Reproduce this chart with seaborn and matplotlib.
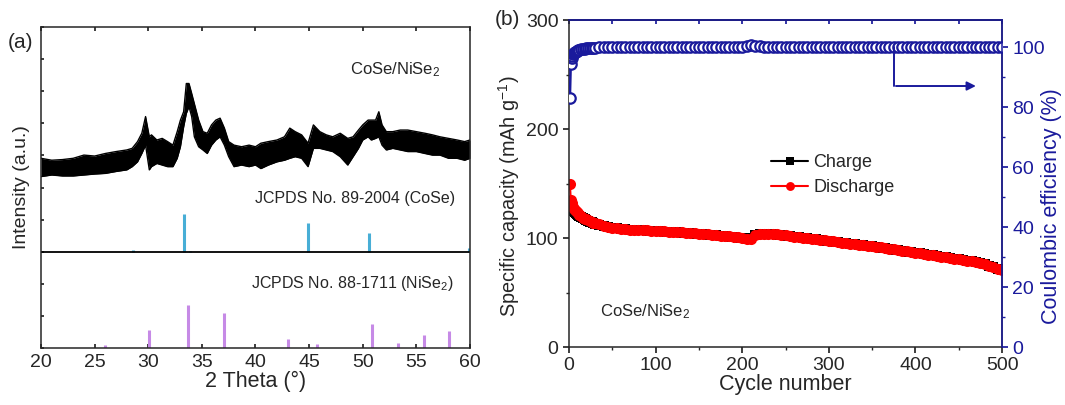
import matplotlib
matplotlib.use("Agg")
import matplotlib.pyplot as plt
from matplotlib.ticker import MultipleLocator, NullFormatter
import seaborn as sns

# ---- (a) XRD pattern (upper / lower edge of the noisy trace)
theta = [20.0, 21.0, 22.0, 23.0, 24.0, 25.0, 26.0, 27.0, 28.0, 28.5, 29.0, 29.4, 29.75, 30.1,
         30.3, 30.8, 31.3, 31.8, 32.3, 32.7, 33.0, 33.3, 33.55, 33.8, 34.05, 34.3, 34.7, 35.1,
         35.5, 35.9, 36.3, 36.7, 37.1, 37.5, 38.0, 38.7, 39.4, 40.0, 40.5, 41.2, 42.0, 42.7,
         43.2, 43.7, 44.3, 44.9, 45.4, 46.0, 46.6, 47.2, 47.9, 48.6, 49.1, 49.6, 50.0, 50.5,
         50.8, 51.2, 51.5, 51.8, 52.2, 52.8, 53.5, 54.2, 55.0, 55.8, 56.5, 57.2, 58.0, 58.8,
         59.5, 60.0]
xrd_upper = [59.1, 58.5, 58.7, 59.1, 60.1, 59.8, 60.6, 61.2, 61.7, 62.2, 64.3, 66.9, 72.1, 65.8,
             66.4, 64.8, 65.3, 64.3, 63.2, 67.4, 71.0, 73.6, 82.4, 82.4, 79.3, 76.1, 71.0, 67.4,
             66.9, 69.5, 71.0, 71.6, 68.5, 64.3, 63.2, 62.7, 63.2, 62.7, 63.8, 64.3, 64.8, 65.8,
             68.5, 67.4, 66.4, 63.8, 69.5, 67.4, 66.4, 65.8, 66.9, 65.3, 65.8, 67.9, 69.5, 71.0,
             71.0, 71.0, 73.6, 69.5, 67.4, 67.4, 67.9, 67.9, 67.4, 66.9, 66.4, 65.8, 65.3, 64.8,
             64.3, 64.8]
xrd_lower = [53.4, 53.9, 53.6, 53.6, 53.9, 54.2, 54.4, 55.0, 55.5, 56.5, 58.0, 60.6, 63.2, 55.5,
             56.5, 57.5, 57.0, 56.5, 56.5, 59.1, 62.7, 68.9, 73.1, 75.2, 72.1, 65.8, 62.7, 61.7,
             60.6, 63.2, 64.8, 65.8, 63.2, 59.6, 56.5, 57.0, 56.5, 57.0, 55.9, 57.0, 58.0, 58.5,
             59.1, 59.6, 59.1, 56.5, 62.2, 62.2, 61.7, 61.2, 59.6, 57.0, 59.6, 62.2, 64.8, 65.8,
             64.8, 65.3, 65.8, 63.2, 61.7, 62.2, 61.7, 61.2, 61.2, 60.6, 60.1, 60.1, 59.1, 59.1,
             58.5, 59.1]

# reference cards (positions in 2 theta, relative intensity)
cose_pos = [28.6, 33.3, 33.9, 44.9, 50.6, 59.95]
cose_int = [0.6, 11.8, 0.3, 8.9, 5.7, 1.2]
nise2_pos = [26.0, 30.1, 33.75, 37.05, 43.0, 45.75, 50.9, 53.3, 55.7, 58.0]
nise2_int = [1.0, 5.5, 13.4, 11.0, 2.9, 1.2, 7.6, 1.6, 4.2, 5.3]

# ---- (b) cycling
cycles = [1, 2, 3, 4, 5, 6, 7, 8, 9, 10, 12, 14, 16, 18, 20, 22, 24, 26, 28, 30,
          35, 40, 45, 50, 55, 60, 65, 70, 75, 80, 85, 90, 95, 100, 105, 110, 115, 120,
          125, 130, 135, 140, 145, 150, 155, 160, 165, 170, 175, 180, 185, 190, 195, 200,
          205, 210, 215, 220, 225, 230, 235, 240, 245, 250, 255, 260, 265, 270, 275, 280,
          285, 290, 295, 300, 305, 310, 315, 320, 325, 330, 335, 340, 345, 350, 355, 360,
          365, 370, 375, 380, 385, 390, 395, 400, 405, 410, 415, 420, 425, 430, 435, 440,
          445, 450, 455, 460, 465, 470, 475, 480, 485, 490, 495, 500]
discharge = [150.0, 135.0, 132.0, 130.0, 128.5, 127.0, 126.0, 125.0, 124.0, 123.0, 121.5, 120.0,
             118.8, 117.8, 117.0, 116.2, 115.5, 114.8, 114.2, 113.6,
             112.4, 111.2, 110.3, 109.6, 109.0, 108.5, 108.1, 107.8, 107.5, 107.3, 107.1, 106.9,
             106.7, 106.5, 106.3, 106.1, 105.9, 105.7, 105.4, 105.1, 104.8, 104.5, 104.2, 103.9,
             103.6, 103.3, 103.0, 102.6, 102.2, 101.8, 101.4, 101.0, 100.5, 100.0,
             99.0, 99.5, 102.5, 103.5, 103.6, 103.6, 103.5, 103.3, 102.8, 102.3, 101.8, 101.3,
             100.8, 100.3, 99.8, 99.3, 98.8, 98.3, 97.8, 97.3, 96.8, 96.3, 95.8, 95.3, 94.8,
             94.4, 94.0, 93.5, 93.0, 92.5, 91.9, 91.3, 90.7, 90.1, 89.5, 88.9, 88.3, 87.7, 87.1,
             86.5, 85.9, 85.3, 84.7, 84.1, 83.5, 82.9, 82.3, 81.7, 81.1, 80.5, 79.9, 79.3, 78.7,
             78.1, 77.5, 76.0, 74.6, 73.3, 72.0, 70.8]
charge = [125.0, 127.5, 127.0, 126.2, 125.4, 124.5, 123.8, 123.1, 122.3, 121.5, 120.3, 119.0,
          118.0, 117.1, 116.4, 115.7, 115.1, 114.4, 113.9, 113.3,
          112.2, 111.0, 110.1, 109.4, 108.8, 108.3, 107.9, 107.6, 107.3, 107.1, 106.9, 106.7,
          106.5, 106.3, 106.1, 105.9, 105.7, 105.5, 105.2, 104.9, 104.6, 104.3, 104.0, 103.7,
          103.4, 103.1, 102.8, 102.4, 102.0, 101.6, 101.2, 100.8, 100.3, 99.8,
          98.8, 99.6, 102.6, 103.4, 103.5, 103.5, 103.4, 103.2, 102.7, 102.2, 101.7, 101.2,
          100.7, 100.2, 99.7, 99.2, 98.7, 98.2, 97.7, 97.2, 96.7, 96.2, 95.7, 95.2, 94.7,
          94.3, 93.9, 93.4, 92.9, 92.4, 91.8, 91.2, 90.6, 90.0, 89.4, 88.8, 88.2, 87.6, 87.0,
          86.4, 85.8, 85.2, 84.6, 84.0, 83.4, 82.8, 82.2, 81.6, 81.0, 80.4, 79.8, 79.2, 78.6,
          78.0, 77.4, 75.9, 74.5, 73.2, 71.9, 70.7]
efficiency = [83.0, 94.5, 96.2, 97.1, 97.6, 98.0, 98.3, 98.5, 98.7, 98.9, 99.1, 99.3,
              99.4, 99.5, 99.6, 99.7, 99.7, 99.8, 99.8, 99.8,
              99.9, 99.9, 99.9, 100.0, 100.0, 100.0, 100.0, 100.0, 99.9, 100.0, 100.0, 100.0,
              100.0, 100.0, 99.9, 100.0, 100.0, 100.0, 99.9, 100.0, 100.0, 100.0, 99.9, 100.0,
              100.0, 100.0, 100.0, 99.9, 100.0, 100.0, 100.0, 100.0, 99.9, 100.0,
              100.3, 100.6, 100.5, 100.2, 100.0, 100.0, 100.0, 99.9, 100.0, 100.0, 100.0, 99.9,
              100.0, 100.0, 100.0, 100.0, 99.9, 100.0, 100.0, 100.0, 100.0, 99.9, 100.0, 100.0,
              100.0, 100.0, 99.9, 100.0, 100.0, 100.0, 100.0, 99.9, 100.0, 100.0, 100.0, 100.0,
              99.9, 100.0, 100.0, 100.0, 100.0, 99.9, 100.0, 100.0, 100.0, 100.0, 99.9, 100.0,
              100.0, 100.0, 100.0, 99.9, 100.0, 100.0, 100.0, 100.0, 99.9, 100.0, 100.0, 100.0]

NAVY = "#1a1a9c"
CYAN = "#48aed6"
VIOLET = "#c68ae6"

sns.set_theme(style="ticks")
plt.rcParams["font.family"] = ["Liberation Sans", "DejaVu Sans"]
plt.rcParams["mathtext.fontset"] = "custom"
plt.rcParams["mathtext.rm"] = "Liberation Sans"
plt.rcParams["mathtext.it"] = "Liberation Sans:italic"
plt.rcParams["mathtext.bf"] = "Liberation Sans:bold"
plt.rcParams["axes.linewidth"] = 1.1

fig = plt.figure(figsize=(10.65, 4.05), dpi=100)
ax_a = fig.add_axes([0.0385, 0.1407, 0.4028, 0.7926])
ax_b = fig.add_axes([0.5343, 0.1432, 0.4066, 0.8074])

# ---------------- panel (a)
ax_a.fill_between(theta, xrd_lower, xrd_upper, color="black", lw=0)
sns.lineplot(x=theta, y=xrd_upper, color="black", lw=1, ax=ax_a)
sns.lineplot(x=theta, y=xrd_lower, color="black", lw=1, ax=ax_a)
ax_a.vlines(cose_pos, 30, [30 + v for v in cose_int], color=CYAN, lw=2.2)
ax_a.vlines(nise2_pos, 0, nise2_int, color=VIOLET, lw=2.2)
ax_a.axhline(30, color="black", lw=1.3)

ax_a.set_xlim(20, 60)
ax_a.set_ylim(0, 100)
ax_a.xaxis.set_major_locator(MultipleLocator(5))
ax_a.yaxis.set_major_locator(MultipleLocator(10))
ax_a.yaxis.set_major_formatter(NullFormatter())
ax_a.tick_params(axis="x", direction="in", top=True, length=3, labelsize=14, pad=4)
ax_a.tick_params(axis="y", direction="in", length=2.5, labelleft=False)
ax_a.set_xlabel("2 Theta (°)", fontsize=15.5, labelpad=0)
ax_a.set_ylabel("Intensity (a.u.)", fontsize=14, labelpad=8)

ax_a.text(57.2, 86.6, "CoSe/NiSe$_2$", fontsize=12, ha="right", va="center")
ax_a.text(58.6, 46.7, "JCPDS No. 89-2004 (CoSe)", fontsize=11.5, ha="right", va="center")
ax_a.text(58.5, 20.2, "JCPDS No. 88-1711 (NiSe$_2$)", fontsize=11.5, ha="right", va="center")

# ---------------- panel (b)
sns.lineplot(x=cycles, y=charge, color="black", marker="s", markersize=7, markeredgewidth=0,
             lw=1.5, label="Charge", ax=ax_b)
sns.lineplot(x=cycles, y=discharge, color="red", marker="o", markersize=8, markeredgewidth=0,
             lw=1.5, label="Discharge", ax=ax_b)
ax_b.set_xlim(0, 500)
ax_b.set_ylim(0, 300)
ax_b.xaxis.set_major_locator(MultipleLocator(100))
ax_b.xaxis.set_minor_locator(MultipleLocator(50))
ax_b.yaxis.set_major_locator(MultipleLocator(100))
ax_b.yaxis.set_minor_locator(MultipleLocator(50))
ax_b.tick_params(axis="both", which="major", direction="out", length=4, labelsize=14)
ax_b.tick_params(axis="both", which="minor", direction="out", length=2.5)
ax_b.set_xlabel("Cycle number", fontsize=15.5, labelpad=0)
ax_b.set_ylabel("Specific capacity (mAh g$^{-1}$)", fontsize=14.3)
ax_b.yaxis.set_label_coords(-0.108, 0.46)
ax_b.legend(loc="upper left", bbox_to_anchor=(0.43, 0.64), frameon=False, fontsize=13,
            handlelength=2.0, handletextpad=0.3, labelspacing=0.45, markerscale=0.8)
ax_b.text(0.072, 0.107, "CoSe/NiSe$_2$", transform=ax_b.transAxes, fontsize=12, va="center")

ax_ce = ax_b.twinx()
sns.lineplot(x=cycles, y=efficiency, color=NAVY, lw=1.8, ax=ax_ce)
sns.lineplot(x=cycles, y=efficiency, color=NAVY, marker="o", markersize=7.5,
             markerfacecolor="white", markeredgecolor=NAVY, markeredgewidth=1.6, lw=0, ax=ax_ce)
ax_ce.set_ylim(0, 109)
ax_ce.yaxis.set_major_locator(MultipleLocator(20))
ax_ce.yaxis.set_minor_locator(MultipleLocator(10))
ax_ce.tick_params(axis="y", which="major", direction="out", length=4, labelsize=14,
                  colors=NAVY)
ax_ce.tick_params(axis="y", which="minor", direction="out", length=2.5, colors=NAVY)
ax_ce.set_ylabel("Coulombic efficiency (%)", fontsize=15.5, color=NAVY)
ax_ce.yaxis.set_label_coords(1.09, 0.43)
ax_ce.spines["right"].set_color(NAVY)
ax_ce.spines["top"].set_color(NAVY)
ax_ce.spines["left"].set_visible(False)
ax_ce.spines["bottom"].set_visible(False)

# top ticks of panel (b), drawn in blue inward
ax_top = ax_b.secondary_xaxis("top")
ax_top.xaxis.set_major_locator(MultipleLocator(50))
ax_top.tick_params(direction="in", length=3, colors=NAVY, labeltop=False)
ax_top.spines["top"].set_color(NAVY)

# arrow pointing to the right axis
ax_ce.plot([375, 375], [100, 87], color=NAVY, lw=1.4)
ax_ce.annotate("", xy=(473, 87), xytext=(374.3, 87),
               arrowprops=dict(arrowstyle="-|>", color=NAVY, lw=1.4, mutation_scale=13))

fig.text(0.0075, 0.896, "(a)", fontsize=15, va="center")
fig.text(0.465, 0.951, "(b)", fontsize=15, va="center")

fig.savefig("out.png", dpi=100)
